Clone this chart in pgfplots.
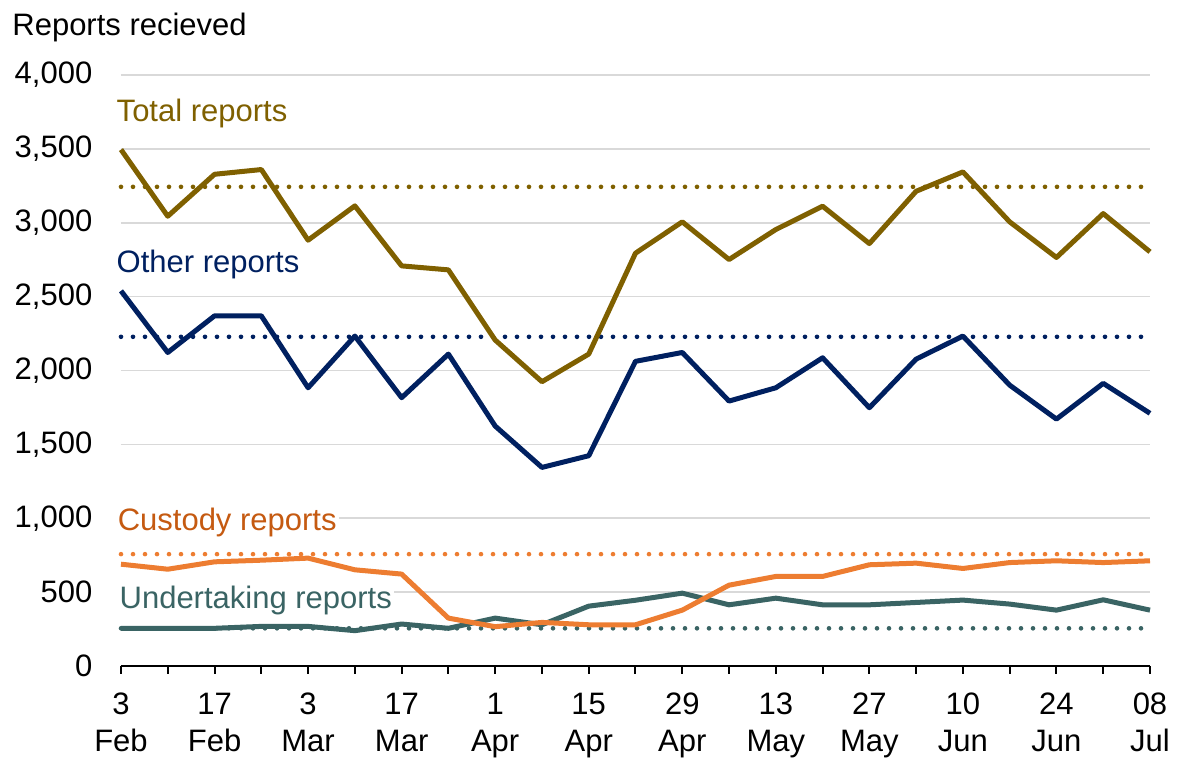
\documentclass[border=0pt]{standalone}
\usepackage{pgfplots}
\pgfplotsset{compat=1.18}
\usepackage{fontspec}
\setmainfont{Liberation Sans}
\definecolor{ctotal}{HTML}{7F6000}
\definecolor{cother}{HTML}{002060}
\definecolor{ccust}{HTML}{ED7D31}
\definecolor{ccustlab}{HTML}{C55A11}
\definecolor{cund}{HTML}{3A6464}
\definecolor{gridgray}{HTML}{D9D9D9}
\pgfplotstableread{
w total other custody undertaking
0  3495 2539 689 255
1  3044 2122 655 255
2  3328 2370 705 255
3  3360 2370 716 268
4  2882 1883 730 268
5  3114 2233 651 239
6  2708 1816 622 284
7  2681 2111 324 255
8  2206 1624 266 324
9  1924 1344 295 279
10 2111 1423 279 405
11 2794 2062 279 445
12 3006 2122 378 493
13 2751 1793 547 414
14 2954 1883 606 459
15 3112 2086 606 414
16 2859 1748 685 414
17 3213 2077 696 430
18 3344 2233 660 446
19 3006 1901 700 419
20 2765 1671 712 378
21 3062 1913 700 448
22 2803 1710 712 378
}\datatable
\begin{document}
\fontsize{15.5}{18.5}\selectfont
\begin{tikzpicture}
\useasboundingbox (-60.5pt,-46pt) rectangle (529pt,333pt);
\begin{axis}[
  at={(0pt,0pt)}, anchor=south west,
  scale only axis, width=514.5pt, height=295.5pt,
  xmin=0, xmax=22, ymin=0, ymax=4000,
  clip=false,
  axis x line*=bottom, axis y line*=left,
  y axis line style={draw=none},
  x axis line style={black, line width=1pt, -},
  ytick={0,500,...,4000},
  ytick style={draw=none},
  ymajorgrids, grid style={color=gridgray, line width=0.8pt},
  xtick={0,...,22},
  xticklabels={{3\\Feb},{},{17\\Feb},{},{3\\Mar},{},{17\\Mar},{},{1\\Apr},{},{15\\Apr},{},{29\\Apr},{},{13\\May},{},{27\\May},{},{10\\Jun},{},{24\\Jun},{},{08\\Jul}},
  xtick style={black, line width=1pt},
  tick align=outside, major tick length=4pt,
  tick label style={font=\fontsize{15.5}{18.5}\selectfont, text=black},
  xticklabel style={align=center, yshift=-4pt},
  yticklabel style={xshift=-5pt},
  /pgf/number format/1000 sep={,},
  /pgf/number format/assume math mode=true,
]
\node[anchor=base west, inner sep=0pt, text=ctotal] at (axis cs:-0.1,3682) {Total reports};
\node[anchor=base west, inner sep=0pt, text=cother] at (axis cs:-0.1,2660) {Other reports};
\node[anchor=base west, inner sep=1pt, fill=white, text=ccustlab] at (axis cs:-0.12,914) {Custody reports\hspace{12pt}};
\node[anchor=base west, inner sep=1pt, fill=white, text=cund] at (axis cs:-0.08,392) {Undertaking reports};
\addplot[ctotal, line width=2.3pt, line cap=round, dash pattern=on 0pt off 6pt] coordinates {(0,3243) (22,3243)};
\addplot[cother, line width=2.3pt, line cap=round, dash pattern=on 0pt off 6pt] coordinates {(0,2228) (22,2228)};
\addplot[ccust, line width=2.3pt, line cap=round, dash pattern=on 0pt off 6pt] coordinates {(0,757) (22,757)};
\addplot[cund, line width=2.3pt, line cap=round, dash pattern=on 0pt off 6pt] coordinates {(0,255) (22,255)};
\addplot[ctotal, line width=2.5pt, line join=round, no marks] table[x=w, y=total] {\datatable};
\addplot[cother, line width=2.5pt, line join=round, no marks] table[x=w, y=other] {\datatable};
\addplot[cund, line width=2.5pt, line join=round, no marks] table[x=w, y=undertaking] {\datatable};
\addplot[ccust, line width=2.5pt, line join=round, no marks] table[x=w, y=custody] {\datatable};
\end{axis}
\node[anchor=base west, inner sep=0pt] at (-54.5pt,315.15pt) {Reports recieved};
\end{tikzpicture}
\end{document}
